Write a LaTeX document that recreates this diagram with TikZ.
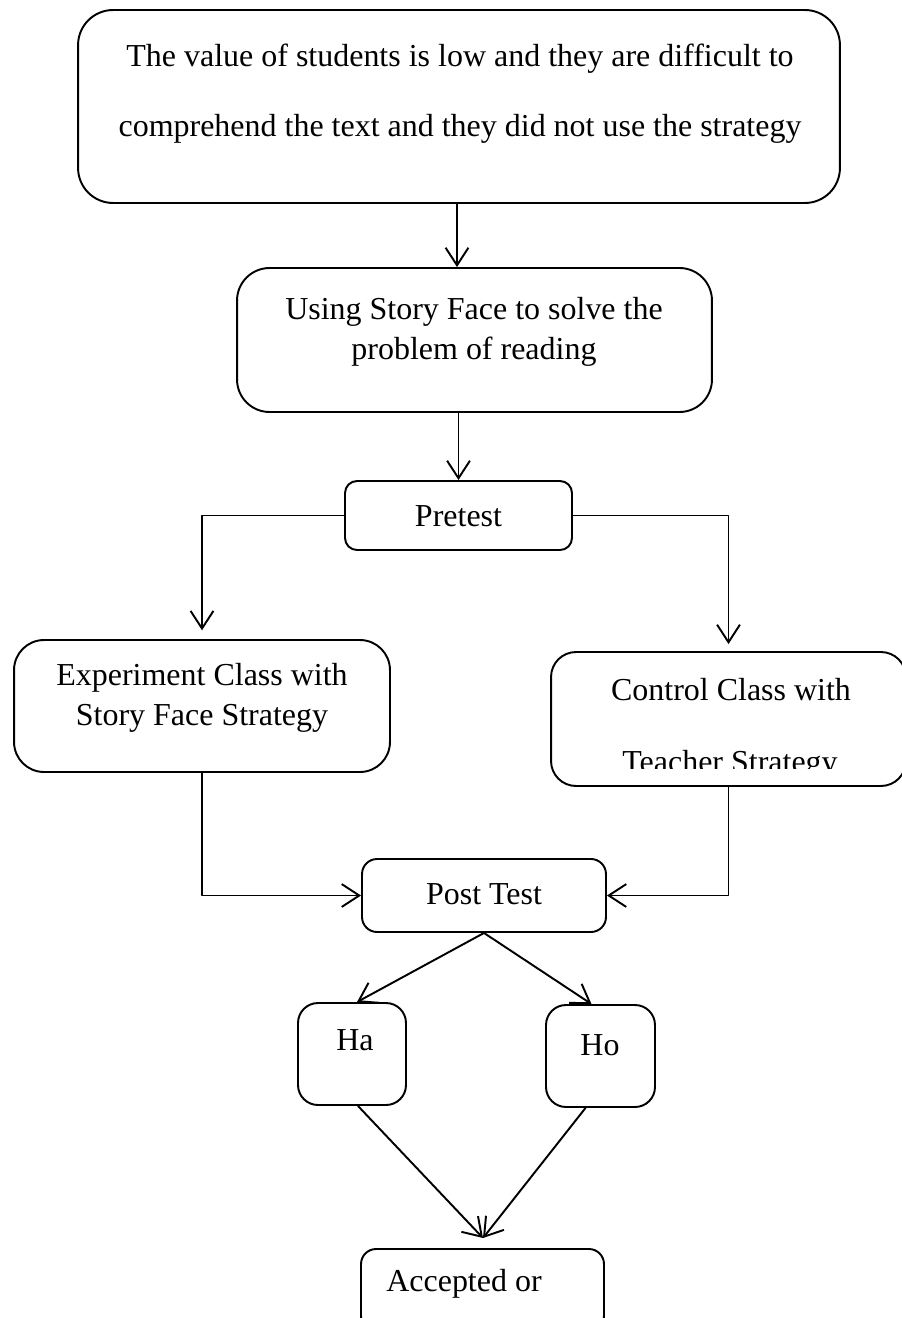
\documentclass[tikz,border=0pt]{standalone}
\usepackage{fontspec}
\setmainfont{Liberation Serif}
\usetikzlibrary{arrows.meta}
\tikzset{
  every picture/.style={line join=round, line cap=round},
  box/.style={draw, line width=1.1pt, inner sep=0pt},
  txt/.style={font=\fontsize{18.2}{22.8}\selectfont, align=center, inner sep=0pt},
  arr/.style={line width=1.1pt, -{Straight Barb[length=10pt,width=13pt]}},
}

\begin{document}
\begin{tikzpicture}[x=0.02cm,y=-0.02cm]
\useasboundingbox (0,0) rectangle (902,1318);
\node[box,rounded corners=0.7cm,minimum width=15.24cm,minimum height=3.86cm](prob) at (459,106.5){};
\node[txt](probtxt) at (460,94){The value of students is low and they are difficult to\\[17pt]comprehend the text and they did not use the strategy};
\node[box,rounded corners=0.65cm,minimum width=9.5cm,minimum height=2.88cm](use) at (474.5,340){};
\node[txt](usetxt) at (474,332){Using Story Face to solve the\\problem of reading};
\node[box,rounded corners=0.24cm,minimum width=4.54cm,minimum height=1.38cm](pre) at (458.5,515.5){};
\node[txt](pretxt) at (458.5,516){Pretest};
\node[box,rounded corners=0.6cm,minimum width=7.52cm,minimum height=2.64cm](exp) at (202,706){};
\node[txt](exptxt) at (202,698){Experiment Class with\\Story Face Strategy};
\node[box,rounded corners=0.5cm,minimum width=7.1cm,minimum height=2.68cm](ctrl) at (728.5,719){};
\node[txt](ctrltxt) at (731,690){Control Class with};
\begin{scope}
\clip (551,652) rectangle (906,768);
\node[txt,anchor=base](ctrltxtb) at (730,772){Teacher Strategy};
\end{scope}
\node[box,rounded corners=0.3cm,minimum width=4.88cm,minimum height=1.46cm](post) at (484,895.5){};
\node[txt](posttxt) at (484,894){Post Test};
\node[box,rounded corners=0.4cm,minimum width=2.16cm,minimum height=2.04cm](ha) at (352,1054){};
\node[txt](hatxt) at (355,1040){Ha};
\node[box,rounded corners=0.4cm,minimum width=2.18cm,minimum height=2.04cm](ho) at (600.5,1056){};
\node[txt](hotxt) at (600,1045){Ho};
\node[box,rounded corners=0.3cm,minimum width=4.86cm,minimum height=1.64cm](acc) at (482.5,1290){};
\node[txt](acctxt) at (464,1284){Accepted or};
\coordinate (meet) at (483,1238);

\draw[arr](prob.south -| 457,0)--(use.north -| 457,0);
\draw[arr](pre.north |- use.south)--(pre.north);
\draw[arr,shorten >=5pt](pre.west)-|(exp.north);
\draw[arr,shorten >=4pt](pre.east)-|(ctrl.north);
\draw[arr](exp.south)|-(post.west);
\draw[arr](ctrl.south)|-(post.east);
\draw[arr](post.south)--([xshift=0.1cm]ha.north);
\draw[arr](post.south)--([xshift=-0.18cm]ho.north);
\draw[arr]([xshift=0.12cm]ha.south)--(meet);
\draw[arr]([xshift=-0.3cm]ho.south)--(meet);
\end{tikzpicture}
\end{document}
